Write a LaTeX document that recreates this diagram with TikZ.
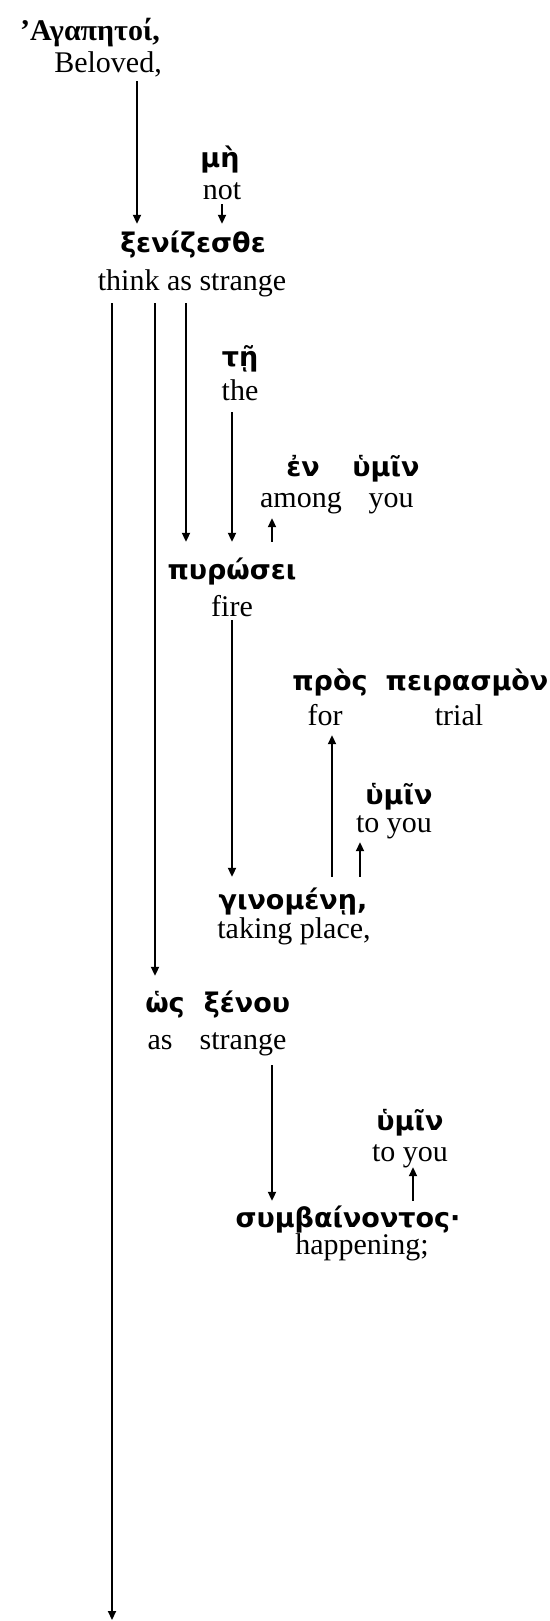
\documentclass[tikz,border=0pt]{standalone}
\usepackage{fontspec}
\setmainfont{Liberation Serif}
\newfontfamily\grkfont{DejaVu Sans}
\usetikzlibrary{arrows.meta}
\begin{document}
\begin{tikzpicture}[x=1pt,y=-1pt,
  % English gloss: the depth is the gap from the baseline to the connector end
  en/.style={font=\fontsize{30}{36}\selectfont, anchor=base, inner sep=0pt,
             text height=20pt, text depth=#1},
  en/.default=8pt,
  % Greek word: the height is the gap from the baseline to the connector end
  gr/.style={font=\grkfont\bfseries\fontsize{27}{32}\selectfont, anchor=base,
             inner sep=0pt, text depth=6pt, text height=#1},
  gr/.default=26pt,
  grhead/.style={font=\bfseries\fontsize{30}{36}\selectfont, anchor=base, inner sep=0pt},
  arr/.style={line width=2pt, -{Triangle[length=9pt,width=8pt]}}]
\useasboundingbox (0,0) rectangle (549,1621);

% column positions of the connectors
\foreach \c in {112,137,155,186,222,232,272,332,360,413}
  \coordinate (c\c) at (\c,0);
\coordinate (bottom) at (112,1620);

% words: Greek above, English gloss below
\node[grhead] (gAgap) at (90,41) {’Αγαπητοί,};
\node[en=8pt] (eBel) at (108,73) {Beloved,};

\node[gr] (gMe) at (220,168) {μὴ};
\node[en=4pt] (eNot) at (222,200) {not};

\node[gr=28pt] (gXen) at (193,252) {ξενίζεσθε};
\node[en=13pt] (eThink) at (192,290) {think as strange};

\node[gr] (gTe) at (240,366) {τῇ};
\node[en=12pt] (eThe) at (240,400) {the};

\node[gr] (gEn) at (303,476) {ἐν};
\node[gr] (gHymA) at (386,476) {ὑμῖν};
\node[en=11pt] (eAmong) at (301,507) {among};
\node[en=11pt] (eYouA) at (391,507) {you};

\node[gr=37pt] (gPyr) at (232,579) {πυρώσει};
\node[en=4pt] (eFire) at (232,616) {fire};

\node[gr] (gPros) at (330,690) {πρὸς};
\node[gr] (gPeir) at (467,690) {πειρασμὸν};
\node[en=10pt] (eFor) at (325,725) {for};
\node[en=10pt] (eTrial) at (459,725) {trial};

\node[gr] (gHymB) at (399,804) {ὑμῖν};
\node[en=10pt] (eYouB) at (394,832) {to you};

\node[gr=32pt] (gGin) at (293,909) {γινομένῃ,};
\node[en] (eTaking) at (294,938) {taking place,};

\node[gr=36pt] (gHos) at (165,1012) {ὡς};
\node[gr=36pt] (gXenou) at (247,1012) {ξένου};
\node[en=16pt] (eAs) at (160,1049) {as};
\node[en=16pt] (eStrange) at (243,1049) {strange};

\node[gr] (gHymC) at (410,1130) {ὑμῖν};
\node[en=6pt] (eYouC) at (410,1161) {to you};

\node[gr=26pt] (gSym) at (348,1227) {συμβαίνοντος·};
\node[en] (eHap) at (362,1254) {happening;};

% connectors
\draw[arr] (eBel.south -| c137) -- (gXen.north -| c137);
\draw[arr] (eNot.south -| c222) -- (gXen.north -| c222);
\draw[arr] (eThink.south -| c112) -- (bottom);
\draw[arr] (eThink.south -| c155) -- (gHos.north -| c155);
\draw[arr] (eThink.south -| c186) -- (gPyr.north -| c186);
\draw[arr] (eThe.south -| c232) -- (gPyr.north -| c232);
\draw[arr] (gPyr.north -| c272) -- (eAmong.south -| c272);
\draw[arr] (eFire.south -| c232) -- (gGin.north -| c232);
\draw[arr] (gGin.north -| c332) -- (eFor.south -| c332);
\draw[arr] (gGin.north -| c360) -- (eYouB.south -| c360);
\draw[arr] (eStrange.south -| c272) -- (gSym.north -| c272);
\draw[arr] (gSym.north -| c413) -- (eYouC.south -| c413);
\end{tikzpicture}
\end{document}
